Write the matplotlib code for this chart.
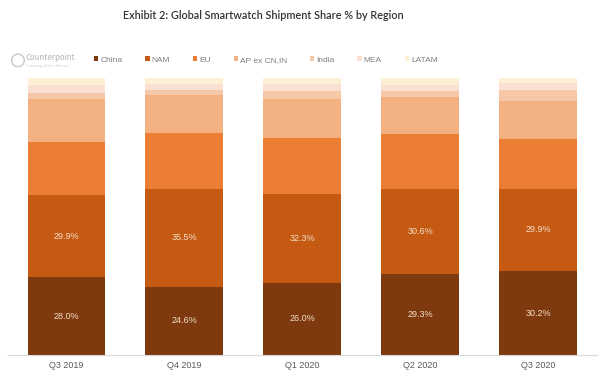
import matplotlib
matplotlib.use("Agg")
import matplotlib.pyplot as plt
import numpy as np
from matplotlib.patches import Ellipse

quarters = ["Q3 2019", "Q4 2019", "Q1 2020", "Q2 2020", "Q3 2020"]
regions = ["China", "NAM", "EU", "AP ex CN,IN", "India", "MEA", "LATAM"]
china = [28.0, 24.6, 26.0, 29.3, 30.2]
nam = [29.9, 35.5, 32.3, 30.6, 29.9]
eu = [19.1, 19.9, 19.9, 19.8, 17.9]
ap = [15.4, 13.9, 14.2, 13.6, 13.7]
india = [2.2, 1.9, 2.8, 2.2, 4.0]
mea = [2.9, 1.9, 2.8, 2.1, 2.4]
latam = [2.5, 2.3, 2.0, 2.4, 1.9]
series = [china, nam, eu, ap, india, mea, latam]
colors = ["#7E3A0E", "#C55B12", "#EC7E33", "#F3B081", "#F7C8A8", "#FAE0D2", "#FEF0D4"]
labeled = [True, True, False, False, False, False, False]

fig = plt.figure(figsize=(6.0, 3.77), dpi=100)
ax = fig.add_axes([0.0125, 0.0584, 0.9825, 0.7346])

x = np.arange(len(quarters))
bottom = np.zeros(len(quarters))
handles = []
for vals, col, name, lab in zip(series, colors, regions, labeled):
    v = np.array(vals)
    bars = ax.bar(x, v, bottom=bottom, width=0.66, color=col, label=name, linewidth=0)
    handles.append(bars)
    if lab:
        for xi, b, vi in zip(x, bottom, v):
            ax.text(xi, b + vi / 2, f"{vi:.1f}%", ha="center", va="center",
                    color="#F4DDC9", fontsize=6.5, family="Liberation Sans")
    bottom += v

ax.set_xlim(-0.5, 4.5)
ax.set_ylim(0, 100)
ax.set_xticks(x)
ax.set_xticklabels(quarters, fontsize=6.5, color="#595959", family="Liberation Sans")
ax.tick_params(axis="x", length=0, pad=4)
ax.set_yticks([])
for s in ["top", "right", "left"]:
    ax.spines[s].set_visible(False)
ax.spines["bottom"].set_color("#D9D9D9")
ax.spines["bottom"].set_linewidth(0.8)

fig.text(0.439, 0.958, "Exhibit 2: Global Smartwatch Shipment Share % by Region",
         ha="center", va="center", fontsize=7.8, color="#333333", family="Lato",
         fontweight="semibold")

leg = fig.legend(handles=handles, labels=regions, loc="center left",
                 bbox_to_anchor=(0.157, 0.841), ncol=7, frameon=False,
                 prop={"family": "Liberation Sans", "size": 6},
                 handlelength=0.5, handleheight=0.5, handletextpad=0.25,
                 columnspacing=2.75, borderaxespad=0, borderpad=0)
for t in leg.get_texts():
    t.set_color("#7F7F7F")

# Counterpoint logo
circ = Ellipse((0.030, 0.840), 0.021, 0.0334, transform=fig.transFigure, fill=False,
               edgecolor="#C8C8C8", linewidth=1.0)
fig.patches.append(circ)
fig.text(0.043, 0.847, "Counterpoint", ha="left", va="center", fontsize=5.5,
         color="#BDBDBD", family="Open Sans", fontweight="semibold")
fig.text(0.044, 0.824, "Technology Market Research", ha="left", va="center",
         fontsize=2.3, color="#CFCFCF", family="Open Sans")

fig.savefig("out.png", dpi=100)
